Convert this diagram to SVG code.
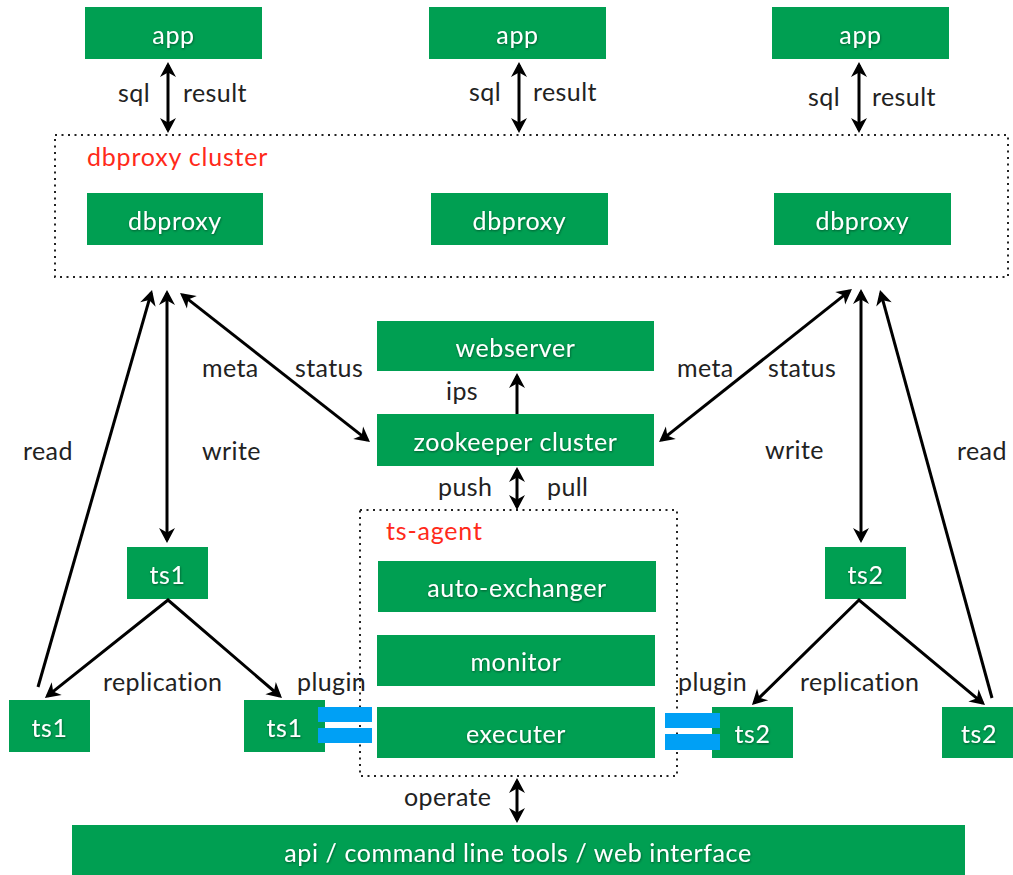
<svg xmlns="http://www.w3.org/2000/svg" width="1013" height="875" viewBox="0 0 1013 875">
  <style>
    .box { fill: #009f52; }
    .bt { fill: #ffffff; font-family: Lato, "Open Sans", sans-serif; font-size: 25px; letter-spacing: 0.6px; text-anchor: middle; filter: url(#shadow); }
    .lbl { fill: #222222; font-family: Lato, "Open Sans", sans-serif; font-size: 25px; letter-spacing: 0.4px; }
    .title { fill: #ff2a1a; font-family: Lato, "Open Sans", sans-serif; font-size: 25px; letter-spacing: 0.8px; }
    .dots { fill: none; stroke: #222222; stroke-width: 2; stroke-dasharray: 2 4.5; }
    .arr { fill: none; stroke: #000000; stroke-width: 3; }
    .one { marker-end: url(#head); }
    .two { marker-start: url(#head); marker-end: url(#head); }
    .plug { fill: #00a0f5; }
  </style>
  <defs>
    <marker id="head" viewBox="-16 -9 20 18" refX="-3" refY="0" markerWidth="20" markerHeight="18" markerUnits="userSpaceOnUse" orient="auto-start-reverse">
      <path d="M0,0 L-15,-8 L-10.5,0 L-15,8 Z" fill="#000000"/>
    </marker>
    <filter id="shadow" x="-10%" y="-20%" width="120%" height="150%">
      <feDropShadow dx="0.5" dy="1" stdDeviation="0.8" flood-color="#000000" flood-opacity="0.45"/>
    </filter>
  </defs>

  <!-- cluster / agent frames -->
  <g id="dbproxy-cluster">
    <rect class="dots" x="55" y="135" width="953" height="142"/>
    <text class="title" x="87" y="166">dbproxy cluster</text>
  </g>
  <g id="ts-agent">
    <rect class="dots" x="360" y="510" width="317" height="266"/>
    <text class="title" x="386" y="540">ts-agent</text>
  </g>

  <!-- applications -->
  <g id="app1"><rect class="box" x="85" y="7" width="177" height="52"/><text class="bt" x="173.5" y="44">app</text></g>
  <g id="app2"><rect class="box" x="429" y="7" width="177" height="52"/><text class="bt" x="517.5" y="44">app</text></g>
  <g id="app3"><rect class="box" x="772" y="7" width="177" height="52"/><text class="bt" x="860.5" y="44">app</text></g>

  <!-- proxies -->
  <g id="dbproxy1"><rect class="box" x="87" y="193" width="176" height="52"/><text class="bt" x="175" y="230">dbproxy</text></g>
  <g id="dbproxy2"><rect class="box" x="431" y="193" width="177" height="52"/><text class="bt" x="519.5" y="230">dbproxy</text></g>
  <g id="dbproxy3"><rect class="box" x="774" y="193" width="177" height="52"/><text class="bt" x="862.5" y="230">dbproxy</text></g>

  <!-- coordination -->
  <g id="webserver"><rect class="box" x="377" y="321" width="277" height="50"/><text class="bt" x="515.5" y="357">webserver</text></g>
  <g id="zookeeper"><rect class="box" x="377" y="414" width="277" height="52"/><text class="bt" x="515.5" y="451">zookeeper cluster</text></g>

  <!-- agent modules -->
  <g id="auto-exchanger"><rect class="box" x="378" y="561" width="278" height="51"/><text class="bt" x="517" y="597">auto-exchanger</text></g>
  <g id="monitor"><rect class="box" x="377" y="635" width="278" height="51"/><text class="bt" x="516" y="671">monitor</text></g>
  <g id="executer"><rect class="box" x="377" y="707" width="278" height="51"/><text class="bt" x="516" y="743">executer</text></g>

  <!-- storage nodes -->
  <g id="ts1-master"><rect class="box" x="127" y="547" width="81" height="52"/><text class="bt" x="167.5" y="584">ts1</text></g>
  <g id="ts1-replica"><rect class="box" x="9" y="700" width="81" height="52"/><text class="bt" x="49.5" y="737">ts1</text></g>
  <g id="ts1-local"><rect class="box" x="244" y="700" width="81" height="52"/><text class="bt" x="284.5" y="737">ts1</text></g>
  <g id="ts2-master"><rect class="box" x="825" y="547" width="81" height="52"/><text class="bt" x="865.5" y="584">ts2</text></g>
  <g id="ts2-local"><rect class="box" x="712" y="707" width="81" height="51"/><text class="bt" x="752.5" y="743">ts2</text></g>
  <g id="ts2-replica"><rect class="box" x="942" y="707" width="71" height="51"/><text class="bt" x="979" y="743">ts2</text></g>

  <!-- client interface -->
  <g id="api"><rect class="box" x="72" y="825" width="893" height="50"/><text class="bt" x="518" y="862">api / command line tools / web interface</text></g>

  <!-- plugin sockets -->
  <g id="plugin-ts1">
    <rect class="plug" x="318" y="707" width="54" height="15"/>
    <rect class="plug" x="318" y="728" width="54" height="15"/>
  </g>
  <g id="plugin-ts2">
    <rect class="plug" x="665" y="713" width="55" height="15"/>
    <rect class="plug" x="665" y="734" width="55" height="16"/>
  </g>

  <!-- connectors -->
  <g id="connectors">
    <line class="arr two" x1="168" y1="65" x2="168" y2="130"/>
    <line class="arr two" x1="519" y1="65" x2="519" y2="130"/>
    <line class="arr two" x1="859" y1="65" x2="859" y2="130"/>

    <line class="arr one" x1="38" y1="687" x2="151.2" y2="292.9"/>
    <line class="arr two" x1="167" y1="293" x2="167" y2="540"/>
    <line class="arr two" x1="182.4" y1="294.9" x2="367.6" y2="440.1"/>

    <line class="arr two" x1="849.6" y1="290.9" x2="661.4" y2="440.1"/>
    <line class="arr two" x1="861" y1="292" x2="861" y2="540"/>
    <line class="arr one" x1="992" y1="698" x2="880.8" y2="292.9"/>

    <line class="arr one" x1="517" y1="414" x2="517" y2="376"/>
    <line class="arr two" x1="517" y1="470" x2="517" y2="507"/>
    <line class="arr two" x1="517" y1="781" x2="517" y2="820"/>

    <polyline class="arr" points="47.3,696.1 168,600 279.7,696" style="marker-start:url(#head);marker-end:url(#head)"/>
    <polyline class="arr" points="754.1,702.9 859,600 982.7,703.1" style="marker-start:url(#head);marker-end:url(#head)"/>
  </g>

  <!-- connector labels -->
  <g id="labels">
    <text class="lbl" x="118" y="102">sql</text>
    <text class="lbl" x="183" y="102">result</text>
    <text class="lbl" x="469" y="101">sql</text>
    <text class="lbl" x="533" y="101">result</text>
    <text class="lbl" x="808" y="106">sql</text>
    <text class="lbl" x="872" y="106">result</text>

    <text class="lbl" x="202" y="377">meta</text>
    <text class="lbl" x="295" y="377">status</text>
    <text class="lbl" x="677" y="377">meta</text>
    <text class="lbl" x="768" y="377">status</text>

    <text class="lbl" x="23" y="460">read</text>
    <text class="lbl" x="202" y="460">write</text>
    <text class="lbl" x="765" y="459">write</text>
    <text class="lbl" x="957" y="460">read</text>

    <text class="lbl" x="446" y="400">ips</text>
    <text class="lbl" x="438" y="496">push</text>
    <text class="lbl" x="547" y="496">pull</text>

    <text class="lbl" x="103" y="691">replication</text>
    <text class="lbl" x="297" y="691">plugin</text>
    <text class="lbl" x="678" y="691">plugin</text>
    <text class="lbl" x="800" y="691">replication</text>

    <text class="lbl" x="404" y="806">operate</text>
  </g>
</svg>
